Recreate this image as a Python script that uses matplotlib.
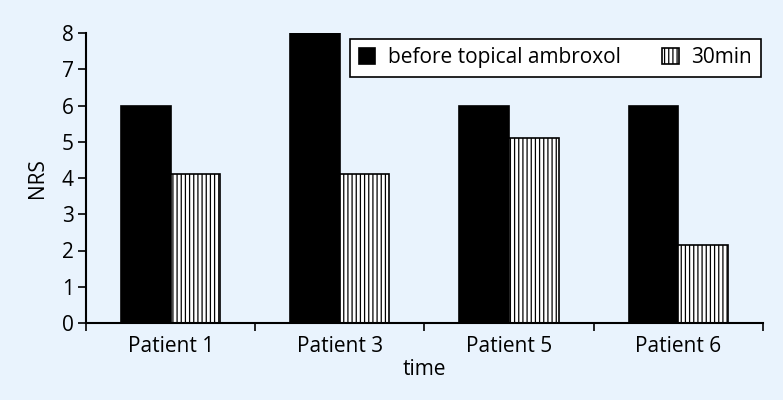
import matplotlib
matplotlib.use("Agg")
import matplotlib.pyplot as plt
import numpy as np

categories = ["Patient 1", "Patient 3", "Patient 5", "Patient 6"]
before = [6, 8, 6, 6]
after30 = [4.1, 4.1, 5.1, 2.15]
series_names = ["before topical ambroxol", "30min"]
yticks = [0, 1, 2, 3, 4, 5, 6, 7, 8]

bg = "#e9f3fd"
plt.rcParams['font.family'] = ['Open Sans', 'DejaVu Sans']
plt.rcParams['hatch.linewidth'] = 0.9
plt.rcParams['hatch.color'] = '#444444'

fs = 15
fig = plt.figure(figsize=(7.83, 4.0), dpi=100, facecolor=bg)
ax = fig.add_axes([0.110, 0.1925, 0.864, 0.725])
ax.set_facecolor(bg)

x = np.arange(len(categories))
w = 0.293
ax.bar(x - w / 2, before, w, color="black", edgecolor="black", linewidth=1.2,
       label=series_names[0])
ax.bar(x + w / 2, after30, w, color="white", edgecolor="black", linewidth=1.2,
       hatch="||||", label=series_names[1])

ax.set_xlim(-0.5, len(categories) - 0.5)
ax.set_ylim(0, 8)
ax.set_yticks(yticks)
ax.set_xticks(np.arange(-0.5, len(categories), 1.0))
ax.set_xticklabels([])
ax.set_xticks(x, minor=True)
ax.set_xticklabels(categories, minor=True)
ax.tick_params(axis='x', which='minor', length=0, pad=9, labelsize=fs)
ax.tick_params(axis='x', which='major', length=6, width=1.2, direction='out')
ax.tick_params(axis='y', length=6, width=1.2, direction='out', labelsize=fs, pad=3)

for s in ["top", "right"]:
    ax.spines[s].set_visible(False)
for s in ["left", "bottom"]:
    ax.spines[s].set_linewidth(1.5)

ax.set_ylabel("NRS", fontsize=fs, labelpad=10)
ax.set_xlabel("time", fontsize=fs, labelpad=2)

leg = ax.legend(loc="upper right", ncol=2, bbox_to_anchor=(0.997, 0.979),
                frameon=True, fancybox=False, fontsize=fs, handlelength=0.8,
                handleheight=0.8, handletextpad=0.6, columnspacing=2.0,
                borderpad=0.4, borderaxespad=0.0)
leg.get_frame().set_edgecolor("black")
leg.get_frame().set_linewidth(1.2)
leg.get_frame().set_facecolor("white")
leg.get_frame().set_alpha(1)

fig.savefig("out.png", dpi=100, facecolor=bg)
